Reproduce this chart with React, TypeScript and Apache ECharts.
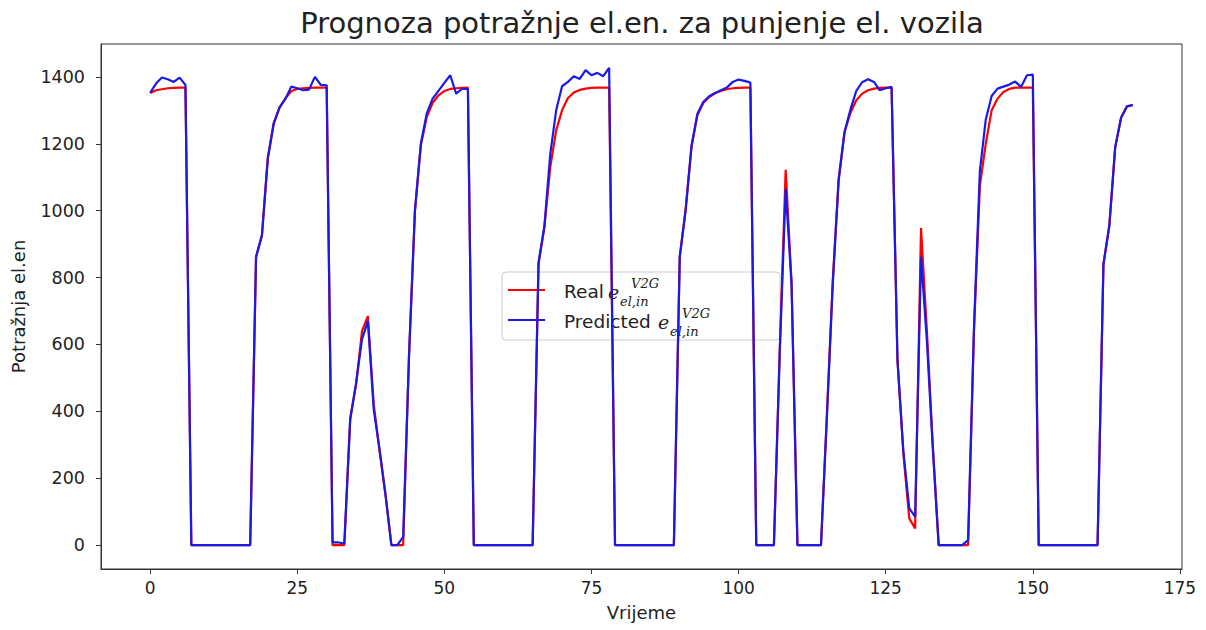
import React, { useEffect, useRef } from "react";
import * as echarts from "echarts";

// Real demand (index = time step 0..167)
const realValues = [
  1352, 1360, 1363, 1366, 1367, 1368, 1368,
  0, 0, 0, 0, 0, 0, 0, 0, 0, 0, 0,
  862, 928, 1160, 1262, 1310, 1336, 1358, 1364, 1366, 1367, 1368, 1368, 1368,
  0, 0, 0, 380, 480, 640, 685, 420, 280, 150, 0, 0, 0,
  570, 1000, 1195, 1280, 1322, 1345, 1358, 1364, 1366, 1367, 1368,
  0, 0, 0, 0, 0, 0, 0, 0, 0, 0, 0,
  840, 950, 1130, 1240, 1300, 1337, 1353, 1361, 1365, 1367, 1368, 1368, 1368,
  0, 0, 0, 0, 0, 0, 0, 0, 0, 0, 0,
  862, 1005, 1190, 1285, 1322, 1340, 1351, 1358, 1363, 1366, 1367, 1368, 1368,
  0, 0, 0, 0,
  585, 1122, 785,
  0, 0, 0, 0, 0,
  390, 790, 1095, 1235, 1292, 1330, 1350, 1360, 1365, 1367, 1368, 1368,
  550, 275, 80, 50, 948, 640, 300,
  0, 0, 0, 0, 0,
  0, 640, 1075, 1200, 1300, 1335, 1355, 1364, 1368, 1368, 1368, 1368,
  0, 0, 0, 0, 0, 0, 0, 0, 0, 0, 0,
  840, 955, 1190, 1278, 1312, 1316,
];

// Predicted demand
const predictedValues = [
  1352, 1380, 1398, 1393, 1385, 1398, 1376,
  0, 0, 0, 0, 0, 0, 0, 0, 0, 0, 0,
  862, 925, 1155, 1260, 1308, 1335, 1371, 1366, 1360, 1362, 1400, 1376, 1375,
  8, 8, 5, 375, 485, 615, 670, 405, 285, 150, 0, 0, 25,
  570, 1000, 1200, 1290, 1335, 1358, 1382, 1405, 1350, 1364, 1364,
  0, 0, 0, 0, 0, 0, 0, 0, 0, 0, 0,
  845, 955, 1170, 1300, 1372, 1385, 1402, 1394, 1420, 1405, 1412, 1402, 1427,
  0, 0, 0, 0, 0, 0, 0, 0, 0, 0, 0,
  862, 1000, 1195, 1290, 1325, 1342, 1352, 1360, 1368, 1385, 1392, 1388, 1383,
  0, 0, 0, 0,
  580, 1065, 780,
  0, 0, 0, 0, 0,
  380, 780, 1090, 1235, 1302, 1358, 1384, 1393, 1385, 1360, 1366, 1370,
  555, 280, 110, 85, 862, 610, 290,
  0, 0, 0, 0, 0,
  15, 650, 1118, 1272, 1343, 1365, 1371, 1377, 1386, 1370, 1405, 1407,
  0, 0, 0, 0, 0, 0, 0, 0, 0, 0, 0,
  840, 955, 1190, 1278, 1312, 1316,
];

const xTicks = [0, 25, 50, 75, 100, 125, 150, 175];
const yTicks = [0, 200, 400, 600, 800, 1000, 1200, 1400];

const TITLE = "Prognoza potražnje el.en. za punjenje el. vozila";
const X_NAME = "Vrijeme";
const Y_NAME = "Potražnja el.en";
const REAL_LABEL = "Real";
const PRED_LABEL = "Predicted";

const SANS = "DejaVu Sans";
const SERIF = "DejaVu Serif";
const TXT = "#222222";
const AXIS = "#333333";
const RED = "#ff0000";
const BLUE = "#1a1ae8";

export default function App() {
  const ref = useRef<HTMLDivElement>(null);

  useEffect(() => {
    if (!ref.current) return;
    const chart = echarts.init(ref.current, null, { renderer: "svg" });

    const n = realValues.length;
    const xMin = -0.05 * (n - 1);
    const xMax = n - 1 + 0.05 * (n - 1);
    const all = realValues.concat(predictedValues);
    const dMax = Math.max(...all);
    const dMin = Math.min(...all);
    const yMin = dMin - 0.05 * (dMax - dMin);
    const yMax = dMax + 0.05 * (dMax - dMin);

    const realData = realValues.map((v, i) => [i, v]);
    const predData = predictedValues.map((v, i) => [i, v]);

    const mathText = (x: number, y: number, size: number, text: string) => ({
      type: "text",
      x,
      y,
      style: {
        text,
        fontFamily: SERIF,
        fontStyle: "italic",
        fontSize: size,
        fill: TXT,
        verticalAlign: "middle",
      },
    });

    const labelText = (x: number, y: number, text: string) => ({
      type: "text",
      x,
      y,
      style: {
        text,
        fontFamily: SANS,
        fontSize: 18.5,
        fill: TXT,
        verticalAlign: "middle",
      },
    });

    chart.setOption({
      animation: false,
      backgroundColor: "#ffffff",
      title: {
        text: TITLE,
        left: 637,
        textAlign: "center",
        top: 3,
        textStyle: {
          fontFamily: SANS,
          fontSize: 29,
          fontWeight: "normal",
          color: TXT,
        },
      },
      grid: {
        left: 101,
        right: 24,
        top: 44,
        bottom: 61,
        show: true,
        borderColor: AXIS,
        borderWidth: 1,
        backgroundColor: "transparent",
      },
      xAxis: {
        type: "value",
        min: xMin,
        max: xMax,
        splitLine: { show: false },
        axisLine: { show: true, onZero: false, lineStyle: { color: AXIS, width: 1 } },
        axisTick: { show: true, length: 5, customValues: xTicks, lineStyle: { color: AXIS } },
        axisLabel: {
          customValues: xTicks,
          formatter: (v: number) => String(v),
          fontFamily: SANS,
          fontSize: 17,
          color: TXT,
          margin: 10,
        },
        name: X_NAME,
        nameLocation: "middle",
        nameGap: 34,
        nameTextStyle: { fontFamily: SANS, fontSize: 18, color: TXT },
      },
      yAxis: {
        type: "value",
        min: yMin,
        max: yMax,
        splitLine: { show: false },
        axisLine: { show: true, onZero: false, lineStyle: { color: AXIS, width: 1 } },
        axisTick: { show: true, length: 5, customValues: yTicks, lineStyle: { color: AXIS } },
        axisLabel: {
          customValues: yTicks,
          formatter: (v: number) => String(v),
          fontFamily: SANS,
          fontSize: 17.5,
          color: TXT,
          margin: 16,
        },
        name: Y_NAME,
        nameLocation: "middle",
        nameGap: 74,
        nameTextStyle: { fontFamily: SANS, fontSize: 18, color: TXT },
      },
      series: [
        {
          name: REAL_LABEL,
          type: "line",
          data: realData,
          showSymbol: false,
          lineStyle: { color: RED, width: 2.2 },
          itemStyle: { color: RED },
          z: 2,
        },
        {
          name: PRED_LABEL,
          type: "line",
          data: predData,
          showSymbol: false,
          lineStyle: { color: BLUE, width: 2.2 },
          itemStyle: { color: BLUE },
          z: 3,
        },
      ],
      graphic: [
        {
          type: "group",
          z: 100,
          children: [
            {
              type: "rect",
              shape: { x: 502, y: 272, width: 278, height: 68, r: 4 },
              style: { fill: "rgba(255,255,255,0.8)", stroke: "#cccccc", lineWidth: 1 },
            },
            {
              type: "line",
              shape: { x1: 508, y1: 290, x2: 545, y2: 290 },
              style: { stroke: RED, lineWidth: 2.2 },
            },
            labelText(564, 291, REAL_LABEL),
            mathText(608, 292, 19, "e"),
            mathText(631, 283, 13, "V2G"),
            mathText(620, 301, 13, "el,in"),
            {
              type: "line",
              shape: { x1: 508, y1: 320, x2: 545, y2: 320 },
              style: { stroke: BLUE, lineWidth: 2.2 },
            },
            labelText(564, 321, PRED_LABEL),
            mathText(658, 322, 19, "e"),
            mathText(682, 313, 13, "V2G"),
            mathText(670, 331, 13, "el,in"),
          ],
        },
      ],
    });

    return () => chart.dispose();
  }, []);

  return (
    <div
      ref={ref}
      style={{ position: "fixed", left: 0, top: 0, width: 1206, height: 630 }}
    />
  );
}
